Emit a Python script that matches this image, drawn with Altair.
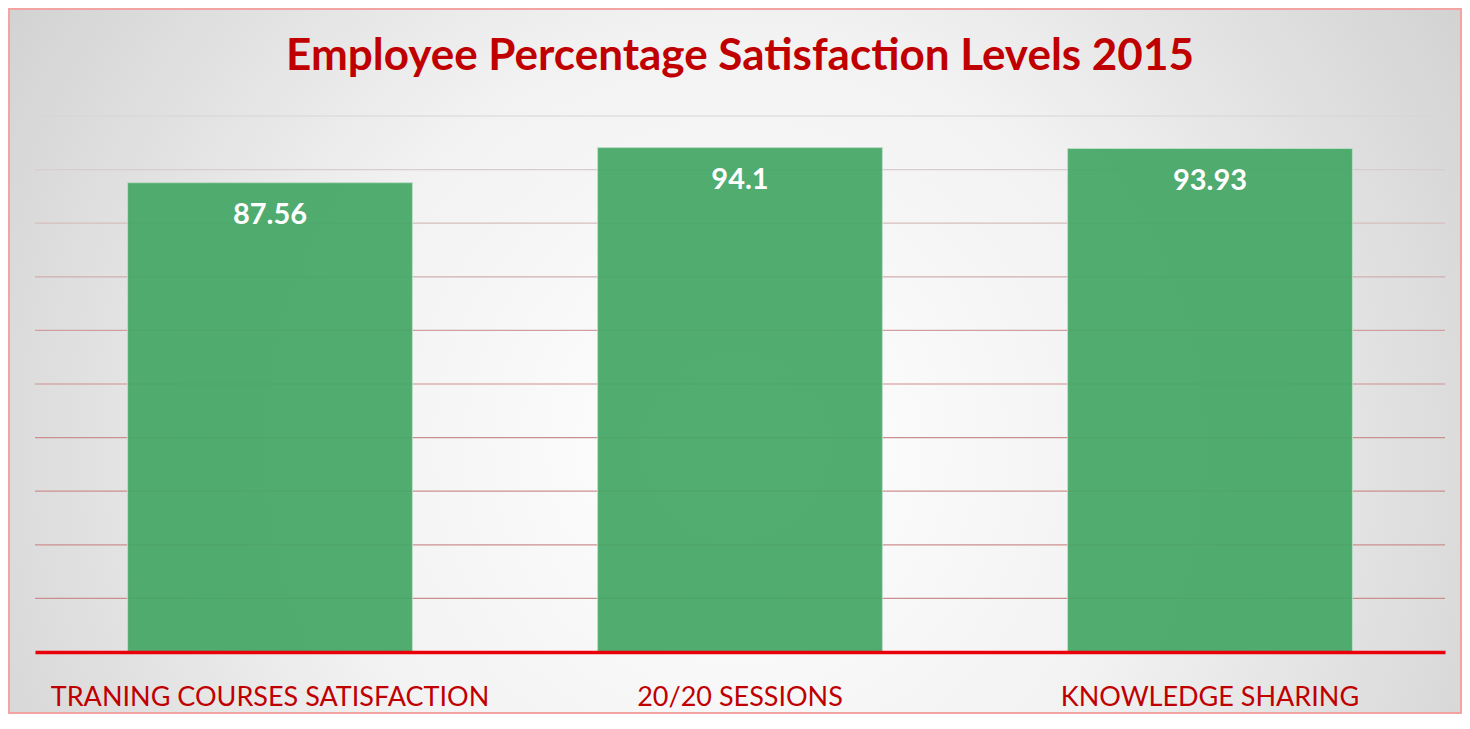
import altair as alt
import pandas as pd

categories = ["TRANING COURSES SATISFACTION", "20/20 SESSIONS", "KNOWLEDGE SHARING"]
values = [87.56, 94.1, 93.93]
value_labels = ["87.56", "94.1", "93.93"]
grid_values = [10, 20, 30, 40, 50, 60, 70, 80, 90, 100]

df = pd.DataFrame({"cat": categories, "val": values, "lab": value_labels})
grid_df = pd.DataFrame({"g": grid_values})

W, H = 1410, 536
PAD = {"left": 27, "right": 17, "top": 108, "bottom": 62}

x_enc = alt.X("cat:N", sort=categories, title=None,
              scale=alt.Scale(paddingInner=0.394, paddingOuter=0.197),
              axis=alt.Axis(labelAngle=0, ticks=False, tickSize=0, labelPadding=53,
                            labelBaseline="alphabetic", labelFont="Lato", labelFontSize=27,
                            labelColor="#c00000", domainColor="#e8000b", domainWidth=3.5,
                            grid=False, zindex=1, labelLimit=0))
y_scale = alt.Scale(domain=[0, 100], nice=False, zero=True)

radial = {
    "gradient": "radial",
    "x1": 0.5, "y1": 0.56, "r1": 0,
    "x2": 0.5, "y2": 0.56, "r2": 0.72,
    "stops": [
        {"offset": 0, "color": "#ffffff"},
        {"offset": 0.4, "color": "#f2f2f2"},
        {"offset": 1, "color": "#c4c4c4"},
    ],
}

bg = alt.Chart(alt.Data(values=[{}])).mark_rect(
    fill=radial, stroke="#f4a3a3", strokeWidth=2
).encode(
    x=alt.value(-PAD["left"] + 1), x2=alt.value(W + PAD["right"] - 1),
    y=alt.value(-PAD["top"] + 1), y2=alt.value(H + PAD["bottom"] - 1),
)

grid = alt.Chart(grid_df).mark_rule(strokeWidth=1.2).encode(
    y=alt.Y("g:Q", scale=y_scale, axis=None),
    color=alt.Color("g:Q", legend=None,
                    scale=alt.Scale(domain=[50, 95], range=["#cc8f8f", "#d9d4d4"], clamp=True)),
)

bars = alt.Chart(df).mark_bar(
    color="#45a766", opacity=0.93, stroke="#b8dcc4", strokeWidth=1
).encode(
    x=x_enc,
    y=alt.Y("val:Q", scale=y_scale, axis=None),
)

texts = alt.Chart(df).mark_text(
    color="white", font="Lato", fontWeight="bold", fontSize=29, baseline="middle", dy=32
).encode(
    x=alt.X("cat:N", sort=categories),
    y=alt.Y("val:Q", scale=y_scale),
    text="lab:N",
)

chart = alt.layer(bg, grid, bars, texts).properties(
    width=W, height=H,
    padding=PAD,
    autosize=alt.AutoSizeParams(type="none"),
    title=alt.TitleParams(
        "Employee Percentage Satisfaction Levels 2015",
        font="Lato", fontSize=44, fontWeight="bold", color="#c00000",
        anchor="middle", frame="group", baseline="alphabetic", offset=-106,
    ),
).configure_view(stroke=None).configure(background="white")

chart.save("out.html", embed_options={"renderer": "svg", "actions": False})
